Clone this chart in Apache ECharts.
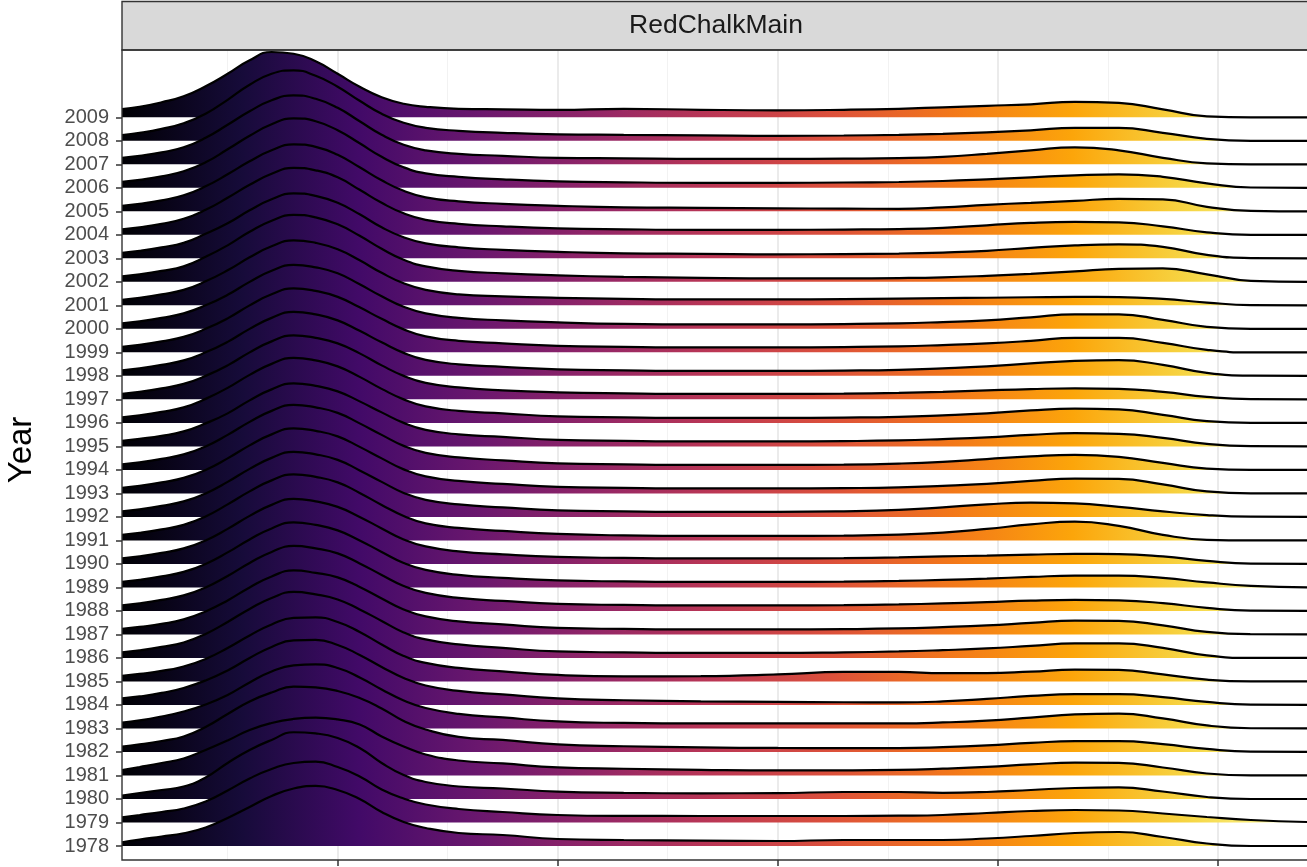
<!DOCTYPE html>
<html><head><meta charset="utf-8">
<script src="https://cdn.jsdelivr.net/npm/echarts@6/dist/echarts.min.js"></script>
<style>html,body{margin:0;padding:0;background:#fff}#c{width:1307px;height:867px}</style>
</head><body><div id="c"></div>
<script>
const facetLabel = 'RedChalkMain';
const yTitle = 'Year';
const years = [1978,1979,1980,1981,1982,1983,1984,1985,1986,1987,1988,1989,1990,1991,1992,1993,1994,1995,1996,1997,1998,1999,2000,2001,2002,2003,2004,2005,2006,2007,2008,2009];
const xTicks = [2,4,6,8,10];
const xMinor = [1,3,5,7,9];
const xRange = [0.04, 10.81];
const xGrid = [0.04,0.2,0.4,0.6,0.8,1.0,1.2,1.4,1.6,1.8,2.0,2.2,2.4,2.6,2.8,3.1,3.5,4.0,4.6,5.3,6.0,6.6,7.1,7.5,7.9,8.3,8.7,9.1,9.5,9.9,10.3,10.81];

const d2009 = [8.3,10.5,15,21,31,43.5,57,65.3,63.5,56,43.5,30.5,20,13.5,10.5,8.5,8,7.5, 8.5,7.5,7,7.5,8.5,10,11.5,13,15.5,14.5,8,1,0,0];
const d2008 = [5.8,8,12,17.5,27,41,56,67,70.5,65,54,40,27,18,13,10,8,6.5, 6,5.5,5,5.3,6,7,8.5,10.5,13,13,8,2,0,0];
const d2007 = [6.5,8.5,12,17,26.5,39.5,53,64,69,65.5,56.5,43,29.5,19.5,14,10.5,8.5,6.5, 6,5.5,5.5,5.7,6.2,7.5,10.5,14,17,14,6.5,1,0,0];
const d2006 = [6,8,11.5,16.5,25.5,38.5,52,63.5,69.5,66.5,57.5,44.5,31,20.5,14.5,11,8.5,6.5, 5.5,5,5,5.3,5.8,6.8,8.5,10.5,12.5,13.5,11,4.5,0.3,0];
const d2005 = [5.5,7.5,11,16,25,37,50,61,67,64.5,56.5,44,31,20.5,14,10,7.5,5.5, 4,3.5,3,2.7,2.5,4,6.5,8.5,10.5,12.5,12,4.5,0.5,0];
const d2004 = [5.5,7.5,11,16,25,37,50,61,67,64.5,57.5,45,32,21.5,15,11,8.5,6.5, 5.5,5,5,5.3,5.8,7,9.5,12,13,12.5,8.5,2.5,0,0];
const d2003 = [5.5,7.5,11,15.5,24.5,35,48,59,65,62.5,55.5,44,31,21,15,11,8.5,6.5, 5,4.5,4,4.3,4.8,5.8,7.5,10.5,13,14,11.5,3.5,0.3,0];
const d2002 = [5.5,7.5,11,15.5,25,36.5,50,61,67,64.5,57.5,46,33,22,15.5,11,8.5,6.5, 5,4,3.5,3.5,3.8,4.5,6,8,10.5,13,13.5,7.5,1,0];
const d2001 = [5.5,7.5,11,15.5,24,35,48,59,65,62.5,56,45,32.5,22,15.5,11,9,7.5, 6.5,6,6,6.3,6.8,7.2,7.6,8.1,8.5,8.3,6.5,2.8,0.3,0];
const d2000 = [5.5,7.5,11,15.5,23.5,34,47,58,64,61.5,55.5,44.5,32.5,22,15.5,11,8.5,6.5, 5,4.5,4.5,4.8,5.5,6.8,8.5,11.5,14.5,14.5,9,2,0,0];
const d1999 = [5.5,7.5,11,15.5,23.5,34,47,58,64,61.5,55.5,45,33.5,23,16,11.5,9,6.5, 5.5,5,5,5.3,6,7.3,9,11.5,14.5,14.5,9.5,2.5,0,0];
const d1998 = [5.5,7.5,11,15.5,23.5,34,47,58,64,61.5,55.5,45,33.5,23,16,11.5,9,6.5, 5.5,5,5,5.3,6,7.5,9.5,12.5,15,15.8,11,3,0.2,0];
const d1997 = [5.5,7.5,11,15.5,23.5,34,47,58,64,61.5,56,46,34,23.5,16.5,12,9,7, 6,5.5,5.5,5.8,6.5,7.5,9,10.3,11,10.5,7.5,2.5,0.2,0];
const d1996 = [5.5,7.5,11,15.5,24,35,48,59,65,62.5,56.5,46,34,23.5,16.5,12,9.5,6.5, 5.5,5,5,5.3,6,7.5,9.5,12.5,14.2,13.5,8,1.8,0,0];
const d1995 = [5.5,7.5,10.5,15,23,33,46,57,63,60.5,55,45,34,23.5,16.5,12,9.5,6.5, 5.5,5,5,5.3,6,7.3,9,11.5,13.2,12.5,8.5,2.5,0.2,0];
const d1994 = [5.5,7.5,11,15.5,23.5,35,48,59,65,62.5,57,46.5,35,24,17,12.5,9.5,6.5, 5.5,5,5,5.3,6.3,8,10.8,13.5,15,13,7,1.3,0,0];
const d1993 = [5.5,7.5,11,15.5,23.5,35,48,59,65,62.5,57,46.5,35,24,17,12.5,9.5,6.5, 5.5,5,5,5.3,6,7.5,9.5,12.5,14.8,14.5,9,2,0,0];
const d1992 = [5.5,7.5,11,15.5,23.5,35,48,59,65,62.5,57,46.5,35,24,17,12.5,9.5,6.5, 5.5,5,5,5.6,7,9.5,12.5,14.3,13.5,10,5.5,1.8,0.2,0];
const d1991 = [5.5,7.5,11,15.5,24,36,49,60,66,63.5,58,47.5,35.5,24.5,17,12.5,9.5,6.5, 5,4.5,4.5,4.8,5.8,7.8,11.5,16,18.8,14.5,5.5,0.6,0,0];
const d1990 = [5.5,7.5,11,15.5,23.5,35,48,59,65,62.5,57,47,35.5,24.5,17.5,12.5,9.5,7, 6,5.5,5.5,5.8,6.5,7.5,8.3,9.3,10,9.8,7.5,3,0.3,0];
const d1989 = [5.5,7.5,11,15.5,23.5,35,48,59,65,62.5,57,47,35.5,24.5,17.5,12.5,9.5,7, 6,5.5,5.5,5.8,6.5,7.5,8.8,10.5,11.8,11.8,9.5,5,1.5,0];
const d1988 = [5.5,7.5,11,15.5,23.5,35,48,59,65,62.5,57.5,47.5,36,25,18,13,10,7, 6,5.5,5.5,5.8,6.5,7.5,8.8,10.3,11,10.5,7.8,3,0.3,0];
const d1987 = [5.5,7.5,10.5,15,23,34,47,58,64,61.5,57,47.5,36,25,18,13,10,6.5, 5.5,5,5,5.3,6,7.3,9,11.5,13.8,13.5,9,2.5,0.2,0];
const d1986 = [5.5,7.5,11,15.5,24,36,49,60,66,63.5,58.5,48.5,37,25.5,18.5,13.5,10,6.5, 5.5,5,5,5.6,6.5,7.8,9.5,12,14.5,14.5,10,2.5,0,0];
const d1985 = [5.5,7.5,10.5,15,22.5,33.5,46,57,63.5,64,59.5,49.5,37,25.5,18.5,13.5,10,6.5, 5,5.3,7,9.5,9.5,8.3,8.3,9.8,11.8,11.5,7,1.8,0,0];
const d1984 = [6.7,8.5,12,17,24.5,34.5,47,58,64.5,65,60,50,38,27,19.5,14,10.5,6.5, 4.7,3.6,3,2.7,2.5,3.5,6,9,10.8,10.8,7.8,3,0.3,0];
const d1983 = [5.8,8,12,17,24,33.5,46,57,63,64,60.5,51,39,28,20.5,14.5,11,7, 5.5,5,5,5,5.1,6,7.8,10.8,14,14.8,10,3,0.2,0];
const d1982 = [5.3,7.5,11,15.5,25,38,50.5,59.5,65.3,64.5,61,54,43.5,31,22.5,15,12,7.5, 5.7,4.6,4,3.9,3.9,4.8,6.5,9,10.8,10.8,7.8,3,0.3,0];
const d1981 = [5.5,8.5,12.5,17,25.5,35,45.5,52.5,56.5,57.8,56,51,39,29,21,15,12,8, 6.7,5.6,5,5.1,5.6,6.8,8.5,11,12.8,12.5,8,2,0,0];
const d1980 = [3.3,6,9,12.5,21.5,36,49,59,66.7,65.5,61,51,36,24,17,12.5,10.5,7.3, 6.1,5.7,5.9,7,7,6.2,7,9,11,11.5,7.5,2,0,0];
const d1979 = [5.2,7.5,10.5,14,21,32,44,53.5,59.5,60.8,55.5,46,33,24,18,13.5,10.5,7.5, 6.6,6.5,6.5,6.5,6.8,7.5,9.5,11.5,12.5,12,9,5.5,2.5,0.5];
const d1978 = [3.7,6.5,9.5,12.7,18.5,28,39,50,57.5,60,56,47,34,24,18,13,11,7, 6,5.4,5,6,6,6,7.5,10,13,14,9,2.5,0,0];

const densities = {1978:d1978,1979:d1979,1980:d1980,1981:d1981,1982:d1982,1983:d1983,1984:d1984,1985:d1985,1986:d1986,1987:d1987,1988:d1988,1989:d1989,1990:d1990,1991:d1991,1992:d1992,1993:d1993,1994:d1994,1995:d1995,1996:d1996,1997:d1997,1998:d1998,1999:d1999,2000:d2000,2001:d2001,2002:d2002,2003:d2003,2004:d2004,2005:d2005,2006:d2006,2007:d2007,2008:d2008,2009:d2009};
const heightScale = 1/23.5; // density units -> rows

const inferno = ['#000004','#160B39','#420A68','#6A176E','#932667','#BC3754','#DD513A','#F37819','#FCA50A','#F6D746','#FCFFA4'];

const FONT = 'Liberation Sans, Arial, sans-serif';
const G = {left:122, top:50, width:1188, height:810};
const chart = echarts.init(document.getElementById('c'), null, {renderer:'canvas'});

function grad(){
  return new echarts.graphic.LinearGradient(G.left, 0, G.left+G.width, 0,
    inferno.map((c,i)=>({offset:i/(inferno.length-1), color:c})), true);
}

const series = [];
series.push({
  type:'line', data:[], z:0, silent:true,
  markLine:{z:0, silent:true, symbol:['none','none'], animation:false, label:{show:false},
    data: xMinor.map(v=>({xAxis:v, lineStyle:{color:'#F2F2F2', width:1.1, type:'solid'}}))
      .concat(xTicks.map(v=>({xAxis:v, lineStyle:{color:'#EBEBEB', width:2, type:'solid'}})))
  }
});
const ordered = years.slice().sort((a,b)=>b-a);
ordered.forEach((yr, k)=>{
  const d = densities[yr];
  series.push({
    type:'line', name:String(yr), z: 2+k, silent:true, animation:false,
    smooth:0.5, symbol:'none', clip:true,
    data: xGrid.map((x,i)=>[x, yr + d[i]*heightScale]),
    lineStyle:{color:'#000000', width:2.2},
    areaStyle:{origin: yr, color: grad(), opacity:1}
  });
});

chart.setOption({
  animation:false,
  backgroundColor:'#ffffff',
  grid:{left:G.left, top:G.top, width:G.width, height:G.height, containLabel:false},
  xAxis:{type:'value', min:xRange[0], max:xRange[1],
    axisLine:{show:false}, splitLine:{show:false},
    axisTick:{show:true, customValues:xTicks, length:6, lineStyle:{color:'#333333', width:1.5}},
    axisLabel:{show:false}},
  yAxis:{type:'value', min:1977.404, max:2011.863,
    axisLine:{show:false}, splitLine:{show:false},
    axisTick:{show:true, customValues:years, length:6, lineStyle:{color:'#333333', width:1.5}},
    axisLabel:{show:true, customValues:years, margin:13, color:'#4D4D4D', fontSize:20, fontFamily:FONT,
      formatter:(v)=>String(Math.round(v))}},
  series: series,
  graphic:[
    {type:'rect', z:100, silent:true, shape:{x:G.left, y:1.5, width:G.width, height:48.5},
      style:{fill:'#D9D9D9', stroke:'#333333', lineWidth:1.4}},
    {type:'text', z:101, silent:true, x:G.left+G.width/2, y:26,
      style:{text:facetLabel, align:'center', verticalAlign:'middle', fontSize:26.5, fontFamily:FONT, fill:'#1A1A1A'}},
    {type:'rect', z:100, silent:true, shape:{x:G.left, y:G.top, width:G.width, height:G.height},
      style:{fill:'none', stroke:'#333333', lineWidth:1.4}},
    {type:'text', z:101, silent:true, x:22, y:450, rotation:Math.PI/2,
      style:{text:yTitle, align:'center', verticalAlign:'middle', fontSize:33, fontFamily:FONT, fill:'#000000'}}
  ]
});
</script></body></html>
